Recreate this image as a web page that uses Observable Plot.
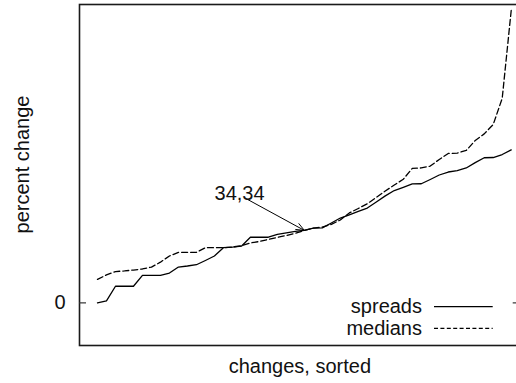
<!DOCTYPE html>
<html>
<head>
<meta charset="utf-8">
<script src="https://cdn.jsdelivr.net/npm/d3@7"></script>
<script src="https://cdn.jsdelivr.net/npm/@observablehq/plot@0.6"></script>
<style>
  html, body { margin: 0; padding: 0; background: white; }
</style>
</head>
<body>
<div id="chart"></div>
<script>
// Sorted percent changes
const spreads = [0, 0.9, 7.8, 7.8, 7.8, 12.9, 12.9, 12.9, 14, 16.8, 17.3, 17.9, 19.9, 22, 25.9, 26.2, 26.6, 30.8, 30.8, 30.8, 32.1, 32.8, 33.5, 34,
  35.1, 35.2, 37.5, 39.8, 41.3, 42.9, 44.5, 47.3, 50.2, 52.7, 54.2, 55.8, 55.9, 57.9, 60, 61.4, 62.1, 63.3, 65.8, 68.1, 68.2, 69.6, 71.8];
const medians = [11.0, 13.1, 14.7, 15.0, 15.4, 15.9, 16.8, 19.1, 22, 23.7, 23.7, 23.7, 25.9, 25.9, 25.9, 26.2, 26.8, 28.1, 28.8, 29.8, 30.7, 31.6, 32.7, 34,
  35.1, 35.6, 36.8, 38.9, 42.2, 44.3, 46.5, 49.5, 52.5, 55.3, 58.0, 63.1, 63.3, 64.2, 67.3, 70.1, 70.3, 71.5, 76.2, 79.3, 83.7, 96, 137.2];
const seriesNames = ["spreads", "medians"];
const yTicks = [0];
const annotationText = ["34,34"];
const annotationFrom = {x: 16.7, y: 48.5};
const annotationTo = {x: 23, y: 34};
const labelPos = {x: 15.8, y: 51.5};
const xLabel = "changes, sorted";
const yLabel = "percent change";

const W = 516, H = 383;
const mL = 79, mR = -3.7, mT = 4, mB = 38;
const frameW = W - mL - mR;
const font = "'Liberation Sans', Arial, Helvetica, sans-serif";

const idx = spreads.map((_, i) => i);

const plot = Plot.plot({
  width: W,
  height: H,
  marginLeft: mL,
  marginRight: mR,
  marginTop: mT,
  marginBottom: mB,
  style: {fontFamily: font, fontSize: "20px", background: "white", color: "#111"},
  x: {domain: [-2, 47], axis: null},
  y: {domain: [-20, 140], axis: null},
  marks: [
    Plot.frame({stroke: "#1a1a1a", strokeWidth: 1.6}),
    Plot.tickY(yTicks, {y: d => d, insetRight: frameW - 7, stroke: "#333", strokeWidth: 1.2}),
    Plot.tickY(yTicks, {y: d => d, insetLeft: frameW - 7, stroke: "#333", strokeWidth: 1.2}),
    Plot.axisY({ticks: yTicks, tickSize: 0, tickPadding: 14, fontSize: 20, tickFormat: d => String(d)}),
    Plot.line(idx, {x: i => i, y: i => spreads[i], stroke: "black", strokeWidth: 1.3}),
    Plot.line(idx, {x: i => i, y: i => medians[i], stroke: "black", strokeWidth: 1.3, strokeDasharray: "6,3"}),
    Plot.arrow([annotationTo], {x1: annotationFrom.x, y1: annotationFrom.y, x2: d => d.x, y2: d => d.y,
      stroke: "black", strokeWidth: 1, headLength: 13, headAngle: 45, insetStart: 0, insetEnd: 0}),
    Plot.text(annotationText, {x: labelPos.x, y: labelPos.y, text: d => d, fontSize: 20, fill: "#111"}),
    Plot.text([xLabel], {frameAnchor: "bottom", text: d => d, dy: 20.6, fontSize: 20, fill: "#111",
      textAnchor: "middle", lineAnchor: "middle"}),
    Plot.text([yLabel], {frameAnchor: "left", text: d => d, rotate: -90, dx: -56.7, dy: -10.5, fontSize: 20, fill: "#111",
      textAnchor: "middle", lineAnchor: "middle"})
  ]
});

// legend (inside the frame, bottom-right)
const svg = d3.select(plot);
const R = W - mR, B = H - mB;
const rows = [{name: seriesNames[0], dy: 38.3, dash: null}, {name: seriesNames[1], dy: 16.7, dash: "4,2.4"}];
const g = svg.append("g").attr("class", "legend");
rows.forEach(r => {
  g.append("text").attr("x", R - 97.7).attr("y", B - r.dy).attr("dy", "0.32em")
    .attr("text-anchor", "end").attr("font-size", 20).attr("font-family", font).attr("fill", "#111").text(r.name);
  g.append("line").attr("x1", R - 85.7).attr("x2", R - 27).attr("y1", B - r.dy).attr("y2", B - r.dy)
    .attr("stroke", "black").attr("stroke-width", 1.3).attr("stroke-dasharray", r.dash);
});

document.getElementById("chart").appendChild(plot);
</script>
</body>
</html>
